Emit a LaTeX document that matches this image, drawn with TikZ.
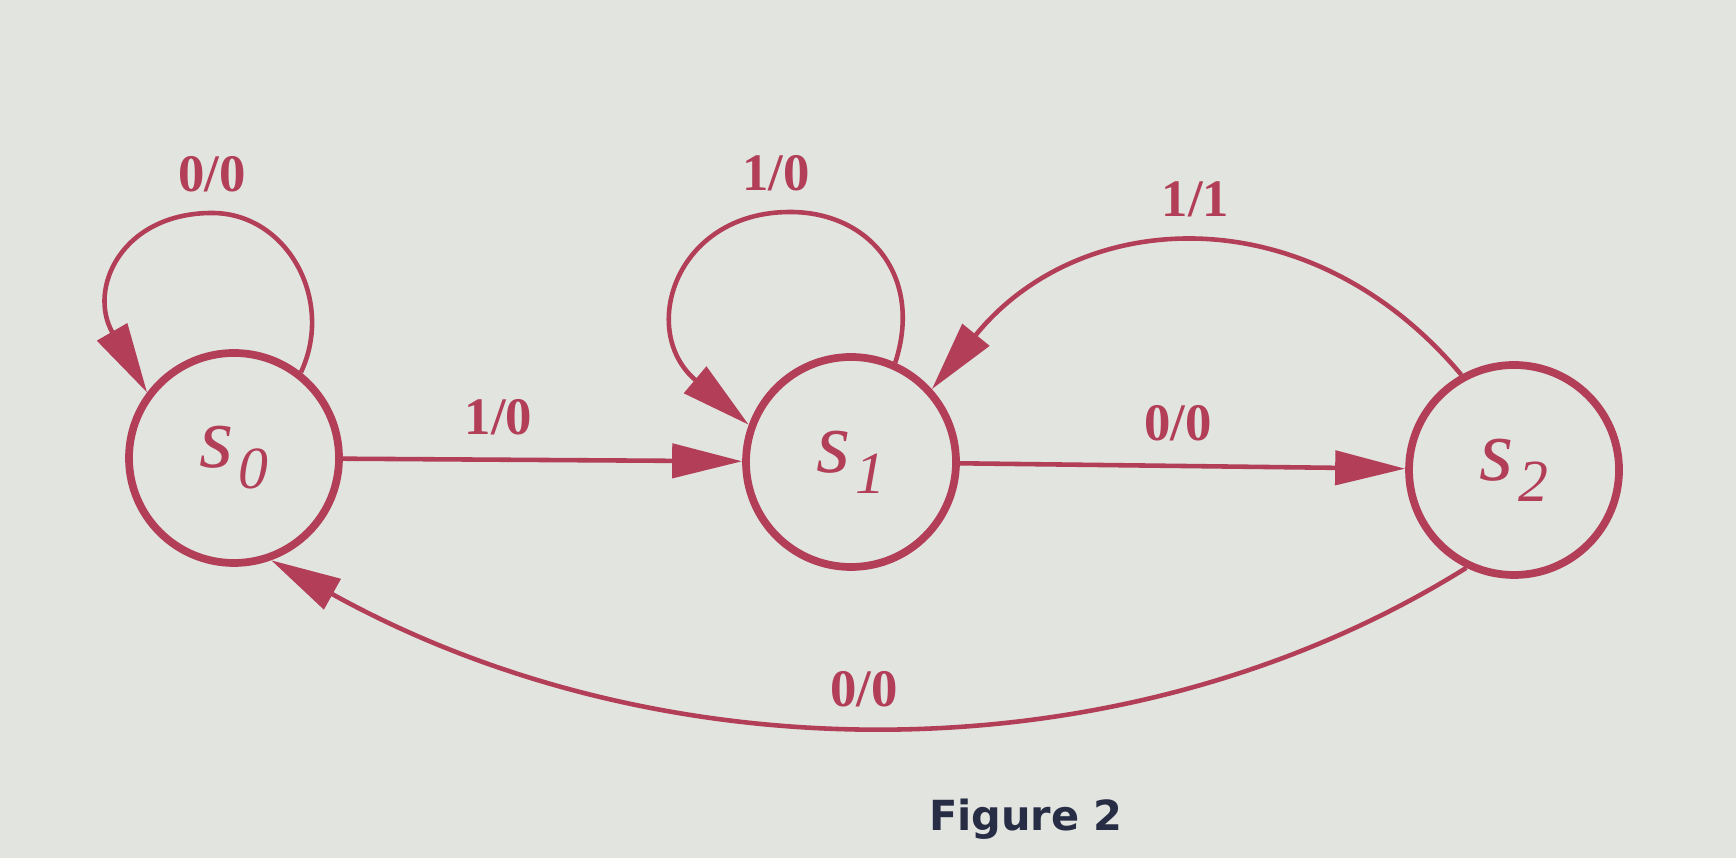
\documentclass[tikz,border=0pt]{standalone}
\usepackage{fontspec}
\setmainfont{Liberation Serif}
\newfontfamily\capfont{DejaVu Sans}
\usetikzlibrary{arrows.meta}

\definecolor{fsmred}{RGB}{178,62,88}
\definecolor{paper}{RGB}{226,228,224}
\definecolor{capblue}{RGB}{40,45,70}

\newcommand{\stlabel}[1]{\fontsize{25}{25}\selectfont\textit{s}\hspace{1.5pt}\raisebox{-6pt}{\fontsize{17}{17}\selectfont\textit{#1}}}

\begin{document}
\begin{tikzpicture}[
    state/.style={circle, draw=fsmred, line width=2.2pt, minimum size=2.1cm, inner sep=0pt, text=fsmred},
    trans/.style={draw=fsmred, line width=1.3pt, -{Triangle[length=0.7cm, width=0.34cm]}},
    io/.style={text=fsmred, font=\fontsize{15}{15}\selectfont\bfseries}
]
     \fill[paper] (0,0) rectangle (17.36,8.58);
     \useasboundingbox (0,0) rectangle (17.36,8.58);

     \node[state] (s0) at (2.34,4.00) {\stlabel{0}};
     \node[state] (s1) at (8.51,3.96) {\stlabel{1}};
     \node[state] (s2) at (15.14,3.88) {\stlabel{2}};
     \coordinate (top0) at (2.12,6.45);
     \coordinate (top1) at (7.90,6.46);

     % self loops
     \draw[trans] (s0.52) .. controls +(65:0.8) and +(0:0.75) .. (top0) node[io, above=2pt] {0/0}
                  .. controls +(180:0.9) and +(120:1.2) .. (s0.143);
     \draw[trans] (s1.66) .. controls +(72:0.9) and +(0:0.8) .. (top1) node[io, above=2pt, xshift=-4pt] {1/0}
                  .. controls +(180:1.15) and +(140:1.45) .. (s1.160);

     \draw[trans] (s0) -- (s1) node[io, pos=0.39, above=3pt] {1/0};
     \draw[trans] (s1) -- (s2) node[io, pos=0.49, above=3pt] {0/0};
     \draw[trans] (s2.119) .. controls +(130:2.36) and +(51:2.36) .. (s1.42) node[io, pos=0.5, above=4pt] {1/1};
     \draw[trans] (s2.244) .. controls +(212:4.0) and +(331:4.5) .. (s0.290) node[io, pos=0.52, above=1pt] {0/0};

     \node[font=\capfont\bfseries\fontsize{11.8}{11.8}\selectfont, text=capblue] (cap) at (10.26,0.39) {Figure 2};
\end{tikzpicture}
\end{document}
